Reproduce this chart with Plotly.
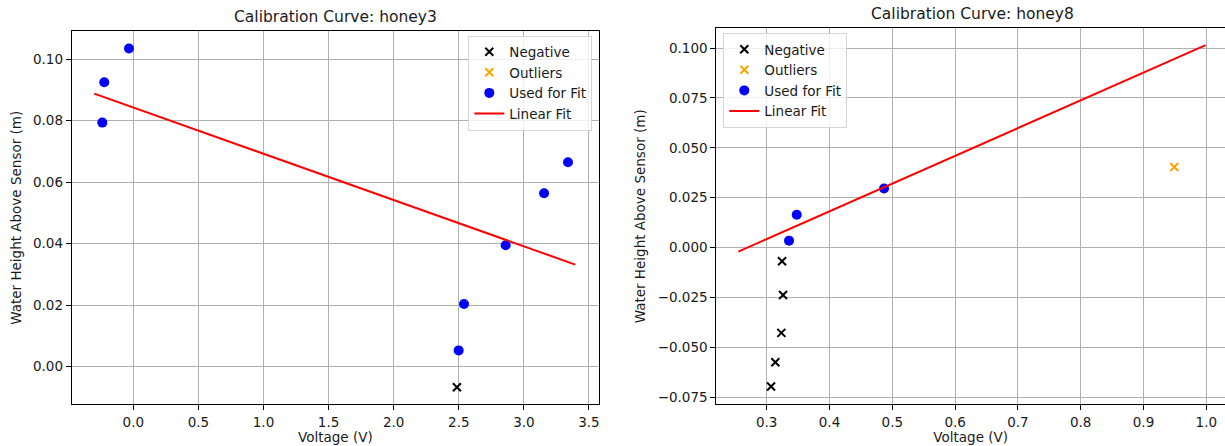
import plotly.graph_objects as go

# ---------------- data: honey3 ----------------
h3_neg_v = [2.486]
h3_neg_h = [-0.0067]
h3_out_v = []
h3_out_h = []
h3_fit_v = [-0.238, -0.223, -0.033, 2.499, 2.540, 2.860, 3.155, 3.339]
h3_fit_h = [0.0794, 0.0925, 0.1035, 0.0053, 0.0204, 0.0395, 0.0564, 0.0665]
h3_line_v = [-0.300, 3.395]
h3_slope = -0.01505
h3_intercept = 0.0843
h3_xticks = [0.0, 0.5, 1.0, 1.5, 2.0, 2.5, 3.0, 3.5]
h3_xticklabels = ["0.0", "0.5", "1.0", "1.5", "2.0", "2.5", "3.0", "3.5"]
h3_yticks = [0.00, 0.02, 0.04, 0.06, 0.08, 0.10]
h3_yticklabels = ["0.00", "0.02", "0.04", "0.06", "0.08", "0.10"]

# ---------------- data: honey8 ----------------
h8_neg_v = [0.3244, 0.3260, 0.3233, 0.3137, 0.3069]
h8_neg_h = [-0.0068, -0.0237, -0.0427, -0.0574, -0.0696]
h8_out_v = [0.949]
h8_out_h = [0.0404]
h8_fit_v = [0.3355, 0.3478, 0.4868]
h8_fit_h = [0.0035, 0.0165, 0.0296]
h8_line_v = [0.2548, 0.999]
h8_slope = 0.139
h8_intercept = -0.0374
h8_xticks = [0.3, 0.4, 0.5, 0.6, 0.7, 0.8, 0.9, 1.0]
h8_xticklabels = ["0.3", "0.4", "0.5", "0.6", "0.7", "0.8", "0.9", "1.0"]
h8_yticks = [-0.075, -0.050, -0.025, 0.000, 0.025, 0.050, 0.075, 0.100]
h8_yticklabels = ["\u22120.075", "\u22120.050", "\u22120.025", "0.000", "0.025", "0.050", "0.075", "0.100"]

W, H = 1225, 446
FONT = "DejaVu Sans"
TICK = 13.5
TXT = "#1a1a1a"

fig = go.Figure()


def add_panel(xa, ya, leg, neg_v, neg_h, out_v, out_h, fit_v, fit_h, line_v, slope, intercept):
    fig.add_trace(go.Scatter(
        x=neg_v, y=neg_h, mode="markers", name="Negative", legend=leg,
        xaxis=xa, yaxis=ya,
        marker=dict(symbol="x-thin", size=8, color="black", line=dict(width=2, color="black"))))
    fig.add_trace(go.Scatter(
        x=out_v if out_v else [None], y=out_h if out_h else [None], mode="markers", name="Outliers", legend=leg,
        xaxis=xa, yaxis=ya,
        marker=dict(symbol="x-thin", size=8, color="orange", line=dict(width=2, color="orange"))))
    fig.add_trace(go.Scatter(
        x=fit_v, y=fit_h, mode="markers", name="Used for Fit", legend=leg,
        xaxis=xa, yaxis=ya,
        marker=dict(symbol="circle", size=10, color="#0000ff")))
    ly = [slope * v + intercept for v in line_v]
    fig.add_trace(go.Scatter(
        x=line_v, y=ly, mode="lines", name="Linear Fit", legend=leg,
        xaxis=xa, yaxis=ya,
        line=dict(color="#ff0000", width=2)))


add_panel("x", "y", "legend", h3_neg_v, h3_neg_h, h3_out_v, h3_out_h, h3_fit_v, h3_fit_h,
          h3_line_v, h3_slope, h3_intercept)
add_panel("x2", "y2", "legend2", h8_neg_v, h8_neg_h, h8_out_v, h8_out_h, h8_fit_v, h8_fit_h,
          h8_line_v, h8_slope, h8_intercept)

axis_common = dict(
    showgrid=True, gridcolor="#b0b0b0", gridwidth=1, zeroline=False,
    showline=True, linecolor="black", linewidth=1,
    ticks="outside", ticklen=5, tickwidth=1, tickcolor="black",
    tickfont=dict(family=FONT, size=TICK, color=TXT),
    tickmode="array",
)
title_font = dict(family=FONT, size=TICK, color=TXT)

fig.update_layout(
    width=W, height=H,
    margin=dict(l=0, r=0, t=0, b=0),
    paper_bgcolor="white", plot_bgcolor="white",
    font=dict(family=FONT, color=TXT),
    xaxis=dict(axis_common, domain=[71.7 / W, 599 / W], range=[-0.473, 3.577], mirror=True,
               anchor="y", tickvals=h3_xticks, ticktext=h3_xticklabels,
               title=dict(text="Voltage (V)", font=title_font, standoff=3)),
    yaxis=dict(axis_common, domain=[1 - 404.3 / H, 1 - 31.3 / H], range=[-0.01224, 0.1091], mirror=True,
               anchor="x", tickvals=h3_yticks, ticktext=h3_yticklabels,
               title=dict(text="Water Height Above Sensor (m)", font=title_font, standoff=8)),
    xaxis2=dict(axis_common, domain=[716.3 / W, 1.0], range=[0.2197, 1.0298], mirror=True,
                anchor="y2", tickvals=h8_xticks, ticktext=h8_xticklabels,
                title=dict(text="Voltage (V)", font=title_font, standoff=3)),
    yaxis2=dict(axis_common, domain=[1 - 404.3 / H, 1 - 28.3 / H], range=[-0.0785, 0.1099], mirror=False,
                anchor="x2", tickvals=h8_yticks, ticktext=h8_yticklabels,
                title=dict(text="Water Height Above Sensor (m)", font=title_font, standoff=8)),
    legend=dict(x=468.3 / W, y=1 - 35.5 / H, xanchor="left", yanchor="top",
                bgcolor="rgba(255,255,255,0.8)", bordercolor="#d5d5d5", borderwidth=1,
                font=dict(family=FONT, size=TICK, color=TXT), tracegroupgap=0),
    legend2=dict(x=723.3 / W, y=1 - 33 / H, xanchor="left", yanchor="top",
                 bgcolor="rgba(255,255,255,0.8)", bordercolor="#d5d5d5", borderwidth=1,
                 font=dict(family=FONT, size=TICK, color=TXT), tracegroupgap=0),
    showlegend=True,
    annotations=[
        dict(text="Calibration Curve: honey3", xref="x domain", yref="y domain", x=0.5, y=1,
             xanchor="center", yanchor="bottom", yshift=3, showarrow=False,
             font=dict(family=FONT, size=15.5, color=TXT)),
        dict(text="Calibration Curve: honey8", xref="x2 domain", yref="y2 domain",
             x=((716.3 + 1229.6) / 2 - 716.3) / (W - 716.3), y=1,
             xanchor="center", yanchor="bottom", yshift=3, showarrow=False,
             font=dict(family=FONT, size=15.5, color=TXT)),
    ],
)

fig.write_html("out.html", config={"displayModeBar": False},
               post_script="document.body.style.margin='0';document.body.style.overflow='hidden';")
